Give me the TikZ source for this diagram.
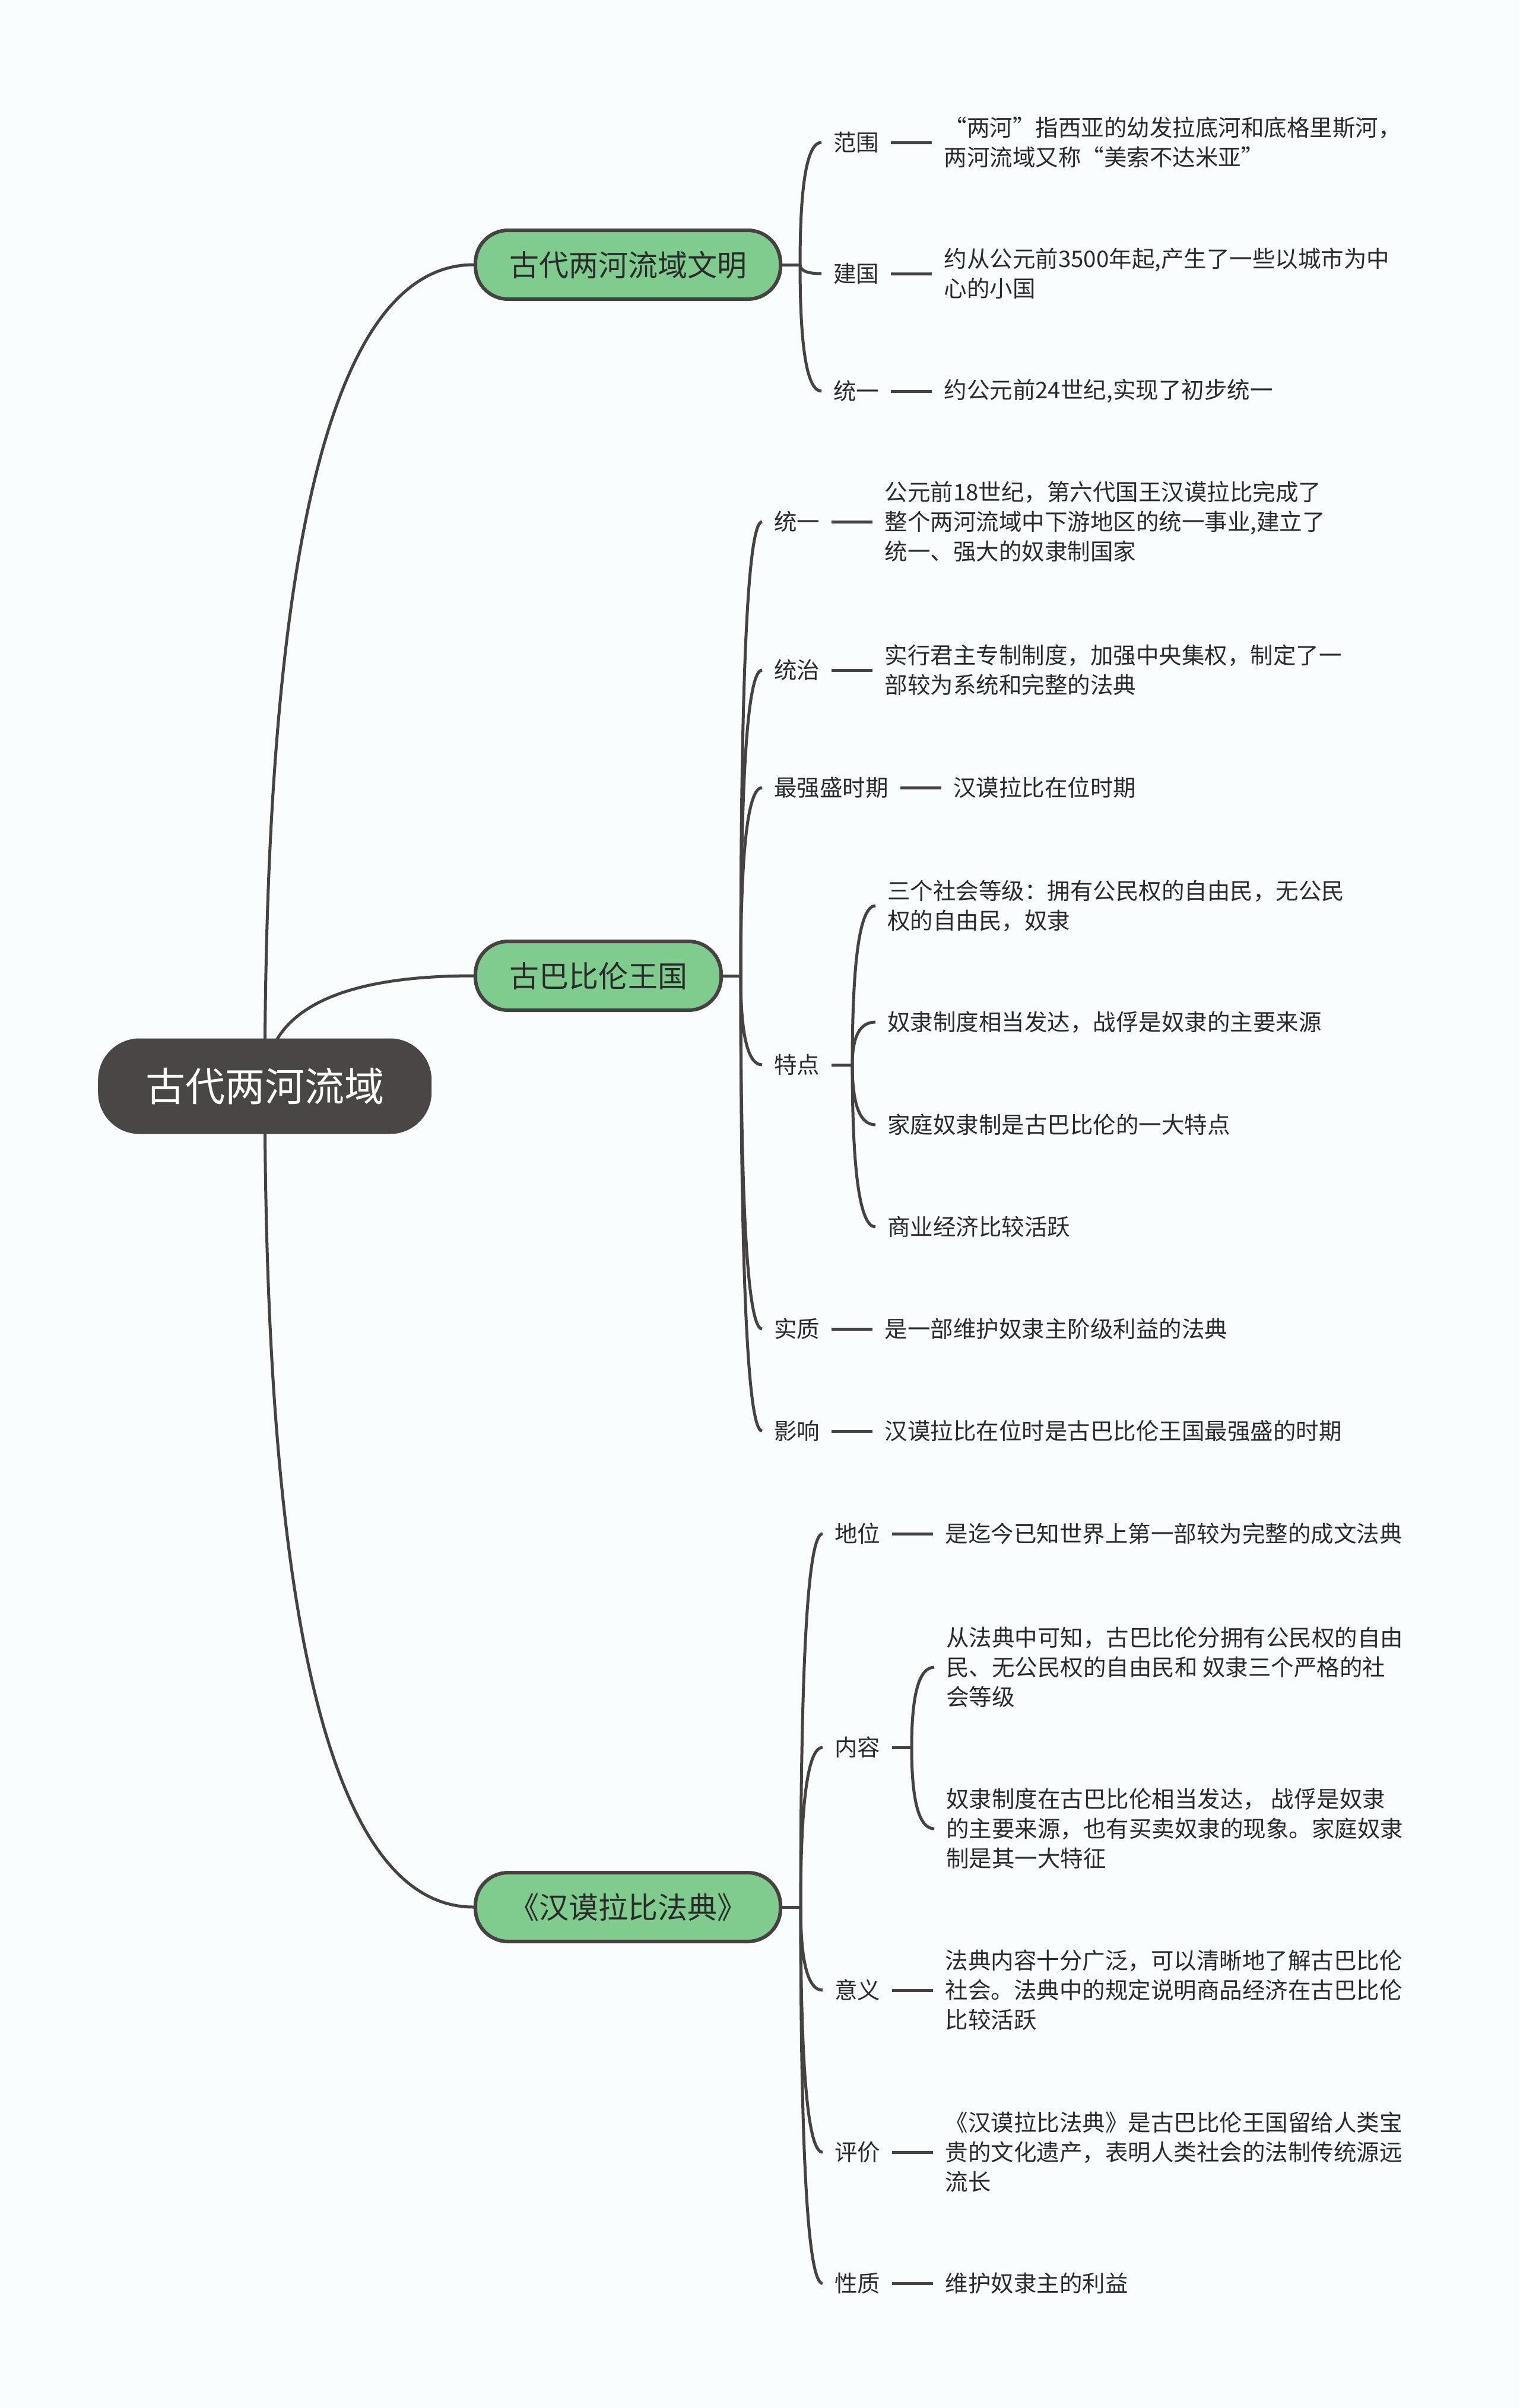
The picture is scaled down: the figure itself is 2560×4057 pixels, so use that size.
\documentclass[tikz,border=0pt]{standalone}
\usepackage{fontspec}
\setmainfont{Noto Sans CJK SC}
\usetikzlibrary{calc}
\definecolor{bgc}{HTML}{F9FDFD}
\definecolor{linec}{HTML}{474242}
\definecolor{greenc}{HTML}{80CC8F}
\definecolor{rootc}{HTML}{4B4646}
\definecolor{txtc}{HTML}{2A2A2A}
\pgfdeclarelayer{bglayer}
\pgfdeclarelayer{edges}
\pgfsetlayers{bglayer,edges,main}
\tikzset{
  conn/.style={draw=linec, line width=5pt},
  brace/.style={to path={.. controls ($(\tikztostart)!2/3!(\tikztostart |- \tikztotarget)$) and ($(\tikztotarget)!2/3!(\tikztostart |- \tikztotarget)$) .. (\tikztotarget)}},
  rootnode/.style={fill=rootc, text=white, rounded corners=70pt, minimum height=161pt, inner xsep=80pt, inner ysep=0pt, font=\fontsize{67}{80}\selectfont, anchor=west},
  mainnode/.style={fill=greenc, draw=linec, line width=6pt, rounded corners=55pt, minimum height=116pt, inner xsep=57pt, inner ysep=0pt, text=txtc, font=\fontsize{50}{60}\selectfont, anchor=west},
  lbl/.style={anchor=west, inner xsep=20pt, inner ysep=4pt, text=txtc, font=\fontsize{38.5}{50}\selectfont},
  desc/.style={lbl, align=left},
}
\begin{document}
\begin{tikzpicture}[x=1pt,y=-1pt]
\useasboundingbox (0,0) rectangle (2560,4057);
\begin{pgfonlayer}{bglayer}
\fill[bgc] (0,0) rectangle (2560,4057);
\end{pgfonlayer}

% root and main topics
\node[rootnode] (r) at (165,1830) {古代两河流域};
\node[mainnode] (b1) at (798,446) {古代两河流域文明};
\node[mainnode] (b2) at (798,1644) {古巴比伦王国};
\node[mainnode] (b3) at (798,3213) {《汉谟拉比法典》};

% branch 1
\coordinate (j1) at (1348,446);
\node[lbl] (a1) at (1384,240) {范围};
\node[desc] (a1d) at ($(a1.east)+(69,0)$) {“两河”指西亚的幼发拉底河和底格里斯河，\\两河流域又称“美索不达米亚”};
\node[lbl] (a2) at (1384,461) {建国};
\node[desc] (a2d) at ($(a2.east)+(69,0)$) {约从公元前3500年起,产生了一些以城市为中\\心的小国};
\node[lbl] (a3) at (1384,659) {统一};
\node[desc] (a3d) at ($(a3.east)+(69,0)$) {约公元前24世纪,实现了初步统一};

% branch 2
\coordinate (j2) at (1248,1644);
\node[lbl] (c1) at (1284,879) {统一};
\node[desc] (c1d) at ($(c1.east)+(69,0)$) {公元前18世纪，第六代国王汉谟拉比完成了\\整个两河流域中下游地区的统一事业,建立了\\统一、强大的奴隶制国家};
\node[lbl] (c2) at (1284,1129) {统治};
\node[desc] (c2d) at ($(c2.east)+(69,0)$) {实行君主专制制度，加强中央集权，制定了一\\部较为系统和完整的法典};
\node[lbl] (c3) at (1284,1327) {最强盛时期};
\node[desc] (c3d) at ($(c3.east)+(69,0)$) {汉谟拉比在位时期};
\node[lbl] (c4) at (1284,1794) {特点};
\coordinate (s1) at (1436,1794);
\node[desc] (c4a) at (1475,1526) {三个社会等级：拥有公民权的自由民，无公民\\权的自由民，奴隶};
\node[desc] (c4b) at (1475,1722) {奴隶制度相当发达，战俘是奴隶的主要来源};
\node[desc] (c4c) at (1475,1895) {家庭奴隶制是古巴比伦的一大特点};
\node[desc] (c4d) at (1475,2067) {商业经济比较活跃};
\node[lbl] (c5) at (1284,2239) {实质};
\node[desc] (c5d) at ($(c5.east)+(69,0)$) {是一部维护奴隶主阶级利益的法典};
\node[lbl] (c6) at (1284,2411) {影响};
\node[desc] (c6d) at ($(c6.east)+(69,0)$) {汉谟拉比在位时是古巴比伦王国最强盛的时期};

% branch 3
\coordinate (j3) at (1349,3213);
\node[lbl] (e1) at (1386,2584) {地位};
\node[desc] (e1d) at ($(e1.east)+(69,0)$) {是迄今已知世界上第一部较为完整的成文法典};
\node[lbl] (e2) at (1386,2944) {内容};
\coordinate (s2) at (1536,2944);
\node[desc] (e2a) at (1574,2809) {从法典中可知，古巴比伦分拥有公民权的自由\\民、无公民权的自由民和 奴隶三个严格的社\\会等级};
\node[desc] (e2b) at (1574,3081) {奴隶制度在古巴比伦相当发达， 战俘是奴隶\\的主要来源，也有买卖奴隶的现象。家庭奴隶\\制是其一大特征};
\node[lbl] (e3) at (1386,3353) {意义};
\node[desc] (e3d) at ($(e3.east)+(69,0)$) {法典内容十分广泛，可以清晰地了解古巴比伦\\社会。法典中的规定说明商品经济在古巴比伦\\比较活跃};
\node[lbl] (e4) at (1386,3626) {评价};
\node[desc] (e4d) at ($(e4.east)+(69,0)$) {《汉谟拉比法典》是古巴比伦王国留给人类宝\\贵的文化遗产，表明人类社会的法制传统源远\\流长};
\node[lbl] (e5) at (1386,3847) {性质};
\node[desc] (e5d) at ($(e5.east)+(69,0)$) {维护奴隶主的利益};

\begin{pgfonlayer}{edges}
% root connectors
\draw[conn] (r.center) to[brace] (b1.west);
\draw[conn] (r.center) to[brace] (b2.west);
\draw[conn] (r.center) to[brace] (b3.west);
% branch 1
\draw[conn] (b1.east) -- (j1);
\foreach \n in {a1,a2,a3} {
  \draw[conn] (j1) to[brace] (\n.west);
  \draw[conn] (\n.east) -- (\n d.west);
}
% branch 2
\draw[conn] (b2.east) -- (j2);
\foreach \n in {c1,c2,c3,c4,c5,c6} {
  \draw[conn] (j2) to[brace] (\n.west);
}
\foreach \n in {c1,c2,c3,c5,c6} {
  \draw[conn] (\n.east) -- (\n d.west);
}
\draw[conn] (c4.east) -- (s1);
\foreach \n in {c4a,c4b,c4c,c4d} {
  \draw[conn] (s1) to[brace] (\n.west);
}
% branch 3
\draw[conn] (b3.east) -- (j3);
\foreach \n in {e1,e2,e3,e4,e5} {
  \draw[conn] (j3) to[brace] (\n.west);
}
\foreach \n in {e1,e3,e4,e5} {
  \draw[conn] (\n.east) -- (\n d.west);
}
\draw[conn] (e2.east) -- (s2);
\foreach \n in {e2a,e2b} {
  \draw[conn] (s2) to[brace] (\n.west);
}
\end{pgfonlayer}
\end{tikzpicture}
\end{document}
